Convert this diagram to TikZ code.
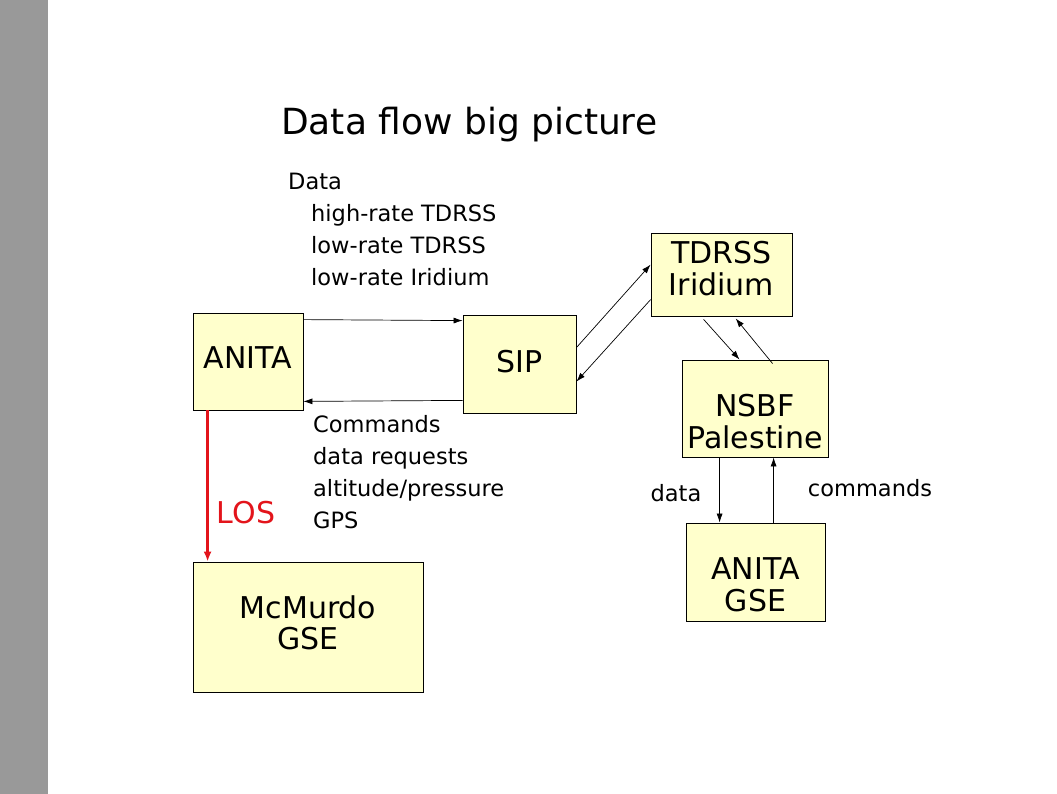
\documentclass[tikz,border=0pt]{standalone}
\usepackage{fontspec}
\setmainfont{DejaVu Sans}
\usetikzlibrary{arrows.meta}
\definecolor{boxfill}{HTML}{FFFFCC}
\definecolor{sidegray}{HTML}{999999}
\definecolor{losred}{HTML}{E3141B}

\begin{document}
\begin{tikzpicture}[x=1pt,y=-1pt,>={Latex[length=9pt,width=6pt]},
    blk/.style={draw,line width=0.8pt,fill=boxfill,inner sep=0pt},
    boxtxt/.style={inner sep=0pt,align=center,font=\fontsize{30}{31.5}\selectfont},
    note/.style={inner sep=0pt,align=left,font=\fontsize{22.5}{32}\selectfont},
    link/.style={->,line width=0.7pt}]
    \useasboundingbox (0,0) rectangle (1057,794);
    \fill[sidegray] (0,0) rectangle (48,794);

    \node[anchor=base west,inner sep=0pt,font=\fontsize{36}{40}\selectfont] (title) at (281,135) {Data flow big picture};

    % boxes
    \node[blk,minimum width=110pt,minimum height=97pt]  (anita)   at (248,361.5) {};
    \node[blk,minimum width=113pt,minimum height=98pt]  (sip)     at (519.5,364) {};
    \node[blk,minimum width=141pt,minimum height=83pt]  (tdrss)   at (721.5,274.5) {};
    \node[blk,minimum width=146pt,minimum height=97pt]  (nsbf)    at (755,408.5) {};
    \node[blk,minimum width=139pt,minimum height=98pt]  (gse)     at (755.5,572) {};
    \node[blk,minimum width=230pt,minimum height=130pt] (mcmurdo) at (308,627) {};

    % box texts
    \node[boxtxt] (anitatxt)   at ([yshift=4pt]anita.center)    {ANITA};
    \node[boxtxt] (siptxt)     at ([yshift=2pt]sip.center)      {SIP};
    \node[boxtxt] (tdrsstxt)   at ([yshift=6pt]tdrss.center)    {TDRSS\\Iridium};
    \node[boxtxt] (nsbftxt)    at ([yshift=-13pt]nsbf.center)   {NSBF\\Palestine};
    \node[boxtxt] (gsetxt)     at ([yshift=-13pt]gse.center)    {ANITA\\GSE};
    \node[boxtxt] (mcmurdotxt) at ([yshift=4pt]mcmurdo.center)  {McMurdo\\GSE};

    \node[note,anchor=north west] (datalist) at (288,173)
        {Data\\\hspace*{23pt}high-rate TDRSS\\\hspace*{23pt}low-rate TDRSS\\\hspace*{23pt}low-rate Iridium};
    \node[note,anchor=north west] (cmdlist) at (313,415)
        {Commands\\data requests\\altitude/pressure\\GPS};
    \node[note] (datalbl) at (676,493) {data};
    \node[note] (cmdlbl)  at (870,488) {commands};
    \node[inner sep=0pt,text=losred,font=\fontsize{30}{32}\selectfont] (loslbl) at (246,513) {LOS};

    % ANITA <-> SIP
    \draw[link] ([yshift=-7pt]anita.north east) -- ([yshift=-6pt]sip.north west);
    \draw[link] ([yshift=13pt]sip.south west) -- ([yshift=9pt]anita.south east);
    % SIP <-> TDRSS
    \draw[link] ([yshift=-33pt]sip.north east) -- ([yshift=-32pt]tdrss.north west);
    \draw[link] ([yshift=-67pt]tdrss.north west) -- ([yshift=-67pt]sip.north east);
    % TDRSS <-> NSBF
    \draw[link] ([xshift=53pt,yshift=-3pt]tdrss.south west) -- ([xshift=58pt]nsbf.north west);
    \draw[link] ([xshift=91pt,yshift=-4pt]nsbf.north west) -- ([xshift=85pt,yshift=-2pt]tdrss.south west);
    % NSBF <-> ANITA GSE
    \draw[link] ([xshift=38pt]nsbf.south west) -- ([xshift=34pt]gse.north west);
    \draw[link] ([xshift=88pt]gse.north west) -- ([xshift=92pt]nsbf.south west);
    % line of sight
    \draw[->,losred,line width=2.4pt,>={Latex[length=10pt,width=8pt]}] ([xshift=15pt]anita.south west) -- ([xshift=15pt]mcmurdo.north west);
\end{tikzpicture}
\end{document}
